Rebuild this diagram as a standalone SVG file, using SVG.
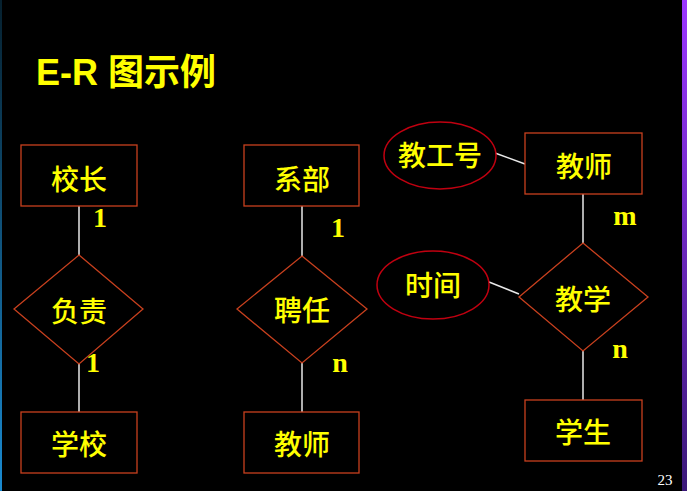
<svg xmlns="http://www.w3.org/2000/svg" width="687" height="491" viewBox="0 0 687 491">
<defs>
<linearGradient id="rbar" x1="0" y1="0" x2="0" y2="1">
<stop offset="0" stop-color="#9b36ff"/>
<stop offset="1" stop-color="#3a1878"/>
</linearGradient>
<linearGradient id="lbar" x1="0" y1="0" x2="0" y2="1">
<stop offset="0" stop-color="#06202e"/>
<stop offset="1" stop-color="#1a8ad0"/>
</linearGradient>
<style>
.box{fill:#000;stroke:#c8401e;stroke-width:1.3}
.ell{fill:#000;stroke:#c00010;stroke-width:1.5}
.lbl{font-family:"Noto Sans CJK SC",sans-serif;font-weight:500;font-size:28px;fill:#ffff00;text-anchor:middle}
.card{font-family:"Liberation Serif",serif;font-weight:bold;font-size:28px;fill:#ffff00;text-anchor:middle}
.con line{stroke:#e8e8e8;stroke-width:1.5}
</style>
</defs>
<rect width="687" height="491" fill="#000"/>
<rect x="682" y="0" width="5" height="491" fill="url(#rbar)"/>
<rect x="0" y="0" width="2" height="491" fill="url(#lbar)"/>
<text x="36" y="85" font-family="'Liberation Sans','Noto Sans CJK SC',sans-serif" font-weight="bold" font-size="36" fill="#ffff00">E-R 图示例</text>
<g class="con">
<line x1="79" y1="206" x2="79" y2="255"/>
<line x1="79" y1="364" x2="79" y2="412"/>
<line x1="302" y1="206" x2="302" y2="256"/>
<line x1="302" y1="363" x2="302" y2="412"/>
<line x1="583" y1="194" x2="583" y2="243"/>
<line x1="583" y1="351" x2="583" y2="400"/>
<line x1="495" y1="153" x2="525" y2="164"/>
<line x1="489" y1="282" x2="519" y2="294"/>
</g>
<g id="xiaozhang"><rect class="box" x="21" y="145" width="116" height="61"/><text class="lbl" x="79" y="190">校长</text></g>
<g id="fuze"><polygon class="box" points="79,255 143,309 79,364 14,309"/><text class="lbl" x="79" y="322">负责</text></g>
<g id="xuexiao"><rect class="box" x="21" y="412" width="116" height="61"/><text class="lbl" x="79" y="455">学校</text></g>
<g id="xibu"><rect class="box" x="244" y="145" width="115" height="61"/><text class="lbl" x="302" y="190">系部</text></g>
<g id="pinren"><polygon class="box" points="302,256 367,309 302,363 237,309"/><text class="lbl" x="302" y="321">聘任</text></g>
<g id="jiaoshi1"><rect class="box" x="244" y="412" width="115" height="61"/><text class="lbl" x="302" y="455">教师</text></g>
<g id="jiaogonghao"><ellipse class="ell" cx="440" cy="155.5" rx="56" ry="33.5"/><text class="lbl" x="440" y="166" font-size="25">教工号</text></g>
<g id="jiaoshi2"><rect class="box" x="525" y="133" width="117" height="61"/><text class="lbl" x="584" y="177">教师</text></g>
<g id="shijian"><ellipse class="ell" cx="433" cy="285" rx="56" ry="34"/><text class="lbl" x="433" y="296" font-size="24">时间</text></g>
<g id="jiaoxue"><polygon class="box" points="583,243 648,297 583,351 519,297"/><text class="lbl" x="583" y="310">教学</text></g>
<g id="xuesheng"><rect class="box" x="525" y="400" width="117" height="61"/><text class="lbl" x="583" y="443">学生</text></g>
<g id="cards">
<text class="card" x="100" y="227">1</text>
<text class="card" x="93" y="372">1</text>
<text class="card" x="338" y="237">1</text>
<text class="card" x="340" y="372">n</text>
<text class="card" x="625" y="225">m</text>
<text class="card" x="620" y="358">n</text>
</g>
<text x="665" y="485" font-family="'Liberation Serif',serif" font-size="15" fill="#ffffff" text-anchor="middle">23</text>
</svg>
